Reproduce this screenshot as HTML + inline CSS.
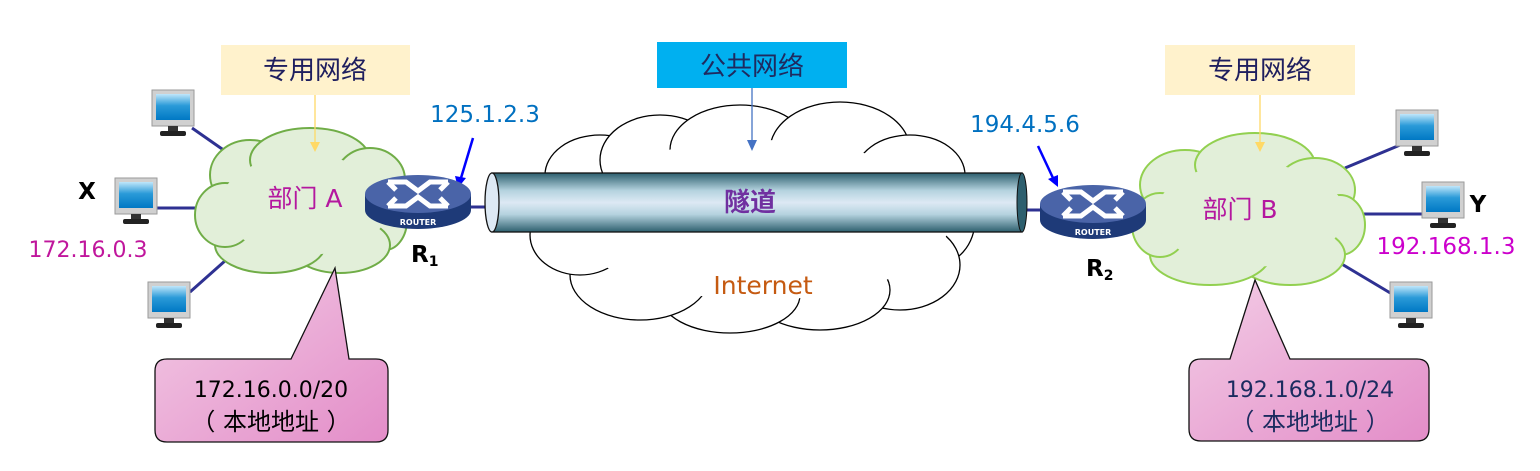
<!DOCTYPE html>
<html><head><meta charset="utf-8"><style>
html,body{margin:0;padding:0;background:#fff;}
svg{display:block;}
text{font-family:"DejaVu Sans","Noto Sans CJK SC",sans-serif;}
.cj{font-family:"Noto Sans CJK SC",sans-serif;}
</style></head><body>
<svg width="1540" height="471" viewBox="0 0 1540 471" xmlns="http://www.w3.org/2000/svg">
<defs>
<linearGradient id="tube" x1="0" y1="0" x2="0" y2="1">
<stop offset="0" stop-color="#2d5f6e"/><stop offset="0.3" stop-color="#b5d3df"/><stop offset="0.5" stop-color="#dde9f4"/><stop offset="0.7" stop-color="#b5d3df"/><stop offset="1" stop-color="#2d5f6e"/>
</linearGradient>
<linearGradient id="pink" x1="0" y1="0" x2="1" y2="1">
<stop offset="0" stop-color="#f3cde6"/><stop offset="1" stop-color="#e38dc8"/>
</linearGradient>
<linearGradient id="scr" x1="0" y1="0" x2="0" y2="1">
<stop offset="0" stop-color="#bfe6fa"/><stop offset="0.45" stop-color="#2a9ad8"/><stop offset="1" stop-color="#0078c4"/>
</linearGradient>
<g id="pc">
<rect x="0" y="0" width="42" height="36" fill="#d0d0d0" stroke="#9a9a9a"/>
<rect x="4" y="4" width="34" height="26" fill="url(#scr)"/>
<rect x="16" y="36" width="10" height="6" fill="#333"/>
<rect x="8" y="41" width="26" height="5" rx="2" fill="#222"/>
</g>
<g id="router">
<ellipse cx="0" cy="16" rx="53" ry="19" fill="#1e3a78"/>
<rect x="-53" y="0" width="106" height="16" fill="#1e3a78"/>
<ellipse cx="0" cy="0" rx="53" ry="19" fill="#4a64a8"/>
<path d="M-30,-12 L-12,-12 L0,-3 L12,-12 L30,-12 M-30,12 L-12,12 L0,3 L12,12 L30,12 M-30,-12 L-22,-4 M30,-12 L22,-4 M-30,12 L-22,4 M30,12 L22,4" stroke="#fff" stroke-width="5" fill="none"/>
<text x="0" y="31" font-size="8" font-weight="bold" fill="#fff" text-anchor="middle">ROUTER</text>
</g>
</defs>

<g stroke="#2e3192" stroke-width="3">
<line x1="192" y1="128" x2="235" y2="158"/>
<line x1="157" y1="208" x2="210" y2="208"/>
<line x1="190" y1="292" x2="235" y2="252"/>
<line x1="1345" y1="168" x2="1400" y2="145"/>
<line x1="1360" y1="214" x2="1425" y2="214"/>
<line x1="1335" y1="260" x2="1392" y2="294"/>
<line x1="470" y1="207" x2="495" y2="207"/>
<line x1="1015" y1="210" x2="1045" y2="210"/>
</g>

<g fill="#fff" stroke="#000" stroke-width="1.3">
<ellipse cx="600" cy="175" rx="55" ry="40"/>
<ellipse cx="660" cy="160" rx="60" ry="45"/>
<ellipse cx="740" cy="150" rx="70" ry="45"/>
<ellipse cx="840" cy="150" rx="70" ry="48"/>
<ellipse cx="910" cy="175" rx="55" ry="40"/>
<ellipse cx="935" cy="220" rx="40" ry="45"/>
<ellipse cx="900" cy="265" rx="60" ry="45"/>
<ellipse cx="820" cy="290" rx="70" ry="40"/>
<ellipse cx="730" cy="295" rx="70" ry="38"/>
<ellipse cx="640" cy="275" rx="70" ry="45"/>
<ellipse cx="580" cy="235" rx="50" ry="40"/>
</g>
<ellipse cx="760" cy="220" rx="190" ry="80" fill="#fff"/>

<g fill="#e2efd9" stroke="#70ad47" stroke-width="2">
<ellipse cx="250" cy="175" rx="40" ry="35"/>
<ellipse cx="310" cy="160" rx="60" ry="32"/>
<ellipse cx="370" cy="180" rx="35" ry="32"/>
<ellipse cx="385" cy="220" rx="22" ry="30"/>
<ellipse cx="340" cy="245" rx="50" ry="28"/>
<ellipse cx="270" cy="245" rx="55" ry="28"/>
<ellipse cx="225" cy="215" rx="30" ry="32"/>
</g>
<ellipse cx="305" cy="205" rx="85" ry="50" fill="#e2efd9"/>

<g fill="#e2efd9" stroke="#92d050" stroke-width="2">
<ellipse cx="1185" cy="185" rx="45" ry="35"/>
<ellipse cx="1255" cy="165" rx="60" ry="32"/>
<ellipse cx="1315" cy="190" rx="40" ry="32"/>
<ellipse cx="1340" cy="225" rx="25" ry="30"/>
<ellipse cx="1290" cy="255" rx="55" ry="30"/>
<ellipse cx="1210" cy="255" rx="60" ry="30"/>
<ellipse cx="1160" cy="225" rx="28" ry="32"/>
</g>
<ellipse cx="1250" cy="215" rx="95" ry="52" fill="#e2efd9"/>

<rect x="492" y="173" width="530" height="59" fill="url(#tube)" stroke="#111" stroke-width="1.3"/>
<ellipse cx="1022" cy="202.5" rx="5" ry="29.5" fill="#2d5f6e" stroke="#111"/>
<ellipse cx="492" cy="202.5" rx="7" ry="29.5" fill="#dde9f4" stroke="#111" stroke-width="1.3"/>
<text class="cj" x="750" y="211" font-size="26" font-weight="bold" fill="#7030a0" text-anchor="middle">隧道</text>
<text x="763" y="294" font-size="25" fill="#c55a11" text-anchor="middle">Internet</text>

<rect x="221" y="45" width="189" height="50" fill="#fff2cc"/>
<text class="cj" x="315" y="79" font-size="26" fill="#1f1f5f" text-anchor="middle">专用网络</text>
<rect x="1165" y="45" width="190" height="50" fill="#fff2cc"/>
<text class="cj" x="1260" y="79" font-size="26" fill="#1f1f5f" text-anchor="middle">专用网络</text>
<rect x="657" y="42" width="190" height="46" fill="#00b0f0"/>
<text class="cj" x="752" y="75" font-size="26" fill="#1f2a5f" text-anchor="middle">公共网络</text>

<line x1="315" y1="95" x2="315" y2="143" stroke="#ffd966" stroke-width="1.3"/>
<polygon points="310,142 320,142 315,152" fill="#ffd966"/>
<line x1="1260" y1="95" x2="1260" y2="143" stroke="#ffd966" stroke-width="1.3"/>
<polygon points="1255,142 1265,142 1260,152" fill="#ffd966"/>
<line x1="752" y1="88" x2="752" y2="142" stroke="#4472c4" stroke-width="1.3"/>
<polygon points="747,140 757,140 752,151" fill="#4472c4"/>

<text x="485" y="122" font-size="23" fill="#0070c0" text-anchor="middle">125.1.2.3</text>
<line x1="473" y1="138" x2="461" y2="178" stroke="#0000ff" stroke-width="2.5"/>
<polygon points="455,176 466,178 458,188" fill="#0000ff"/>
<text x="1025" y="132" font-size="23" fill="#0070c0" text-anchor="middle">194.4.5.6</text>
<line x1="1038" y1="146" x2="1053" y2="178" stroke="#0000ff" stroke-width="2.5"/>
<polygon points="1048,179 1058,175 1058,187" fill="#0000ff"/>

<use href="#router" x="418" y="194"/>
<use href="#router" x="1093" y="204"/>
<text x="411" y="262" font-size="23" font-weight="bold" fill="#000">R<tspan font-size="14" dy="4">1</tspan></text>
<text x="1086" y="276" font-size="23" font-weight="bold" fill="#000">R<tspan font-size="14" dy="4">2</tspan></text>

<text x="305" y="207" font-size="25" fill="#b4179f" text-anchor="middle">部门 A</text>
<text x="1240" y="218" font-size="25" fill="#b4179f" text-anchor="middle">部门 B</text>

<use href="#pc" x="152" y="90"/>
<use href="#pc" x="115" y="178"/>
<use href="#pc" x="148" y="282"/>
<use href="#pc" x="1396" y="110"/>
<use href="#pc" x="1422" y="182"/>
<use href="#pc" x="1390" y="282"/>

<text x="87" y="199" font-size="23" font-weight="bold" fill="#000" text-anchor="middle">X</text>
<text x="88" y="257" font-size="22" fill="#c0169c" text-anchor="middle">172.16.0.3</text>
<text x="1478" y="212" font-size="23" font-weight="bold" fill="#000" text-anchor="middle">Y</text>
<text x="1446" y="254" font-size="23" fill="#cc00cc" text-anchor="middle">192.168.1.3</text>

<path d="M167,359 L291,359 L335,268 L349,359 L376,359 Q388,359 388,371 L388,430 Q388,442 376,442 L167,442 Q155,442 155,430 L155,371 Q155,359 167,359 Z" fill="url(#pink)" stroke="#111" stroke-width="1.3"/>
<text x="271" y="397" font-size="22" fill="#000" text-anchor="middle">172.16.0.0/20</text>
<text x="271" y="430" font-size="24" fill="#000" text-anchor="middle">（ 本地地址 ）</text>
<path d="M1201,359 L1230,359 L1255,280 L1290,359 L1417,359 Q1429,359 1429,371 L1429,429 Q1429,441 1417,441 L1201,441 Q1189,441 1189,429 L1189,371 Q1189,359 1201,359 Z" fill="url(#pink)" stroke="#111" stroke-width="1.3"/>
<text x="1310" y="397" font-size="22" fill="#1a2b5f" text-anchor="middle">192.168.1.0/24</text>
<text x="1310" y="430" font-size="24" fill="#1a2b5f" text-anchor="middle">（ 本地地址 ）</text>
</svg>
</body></html>
